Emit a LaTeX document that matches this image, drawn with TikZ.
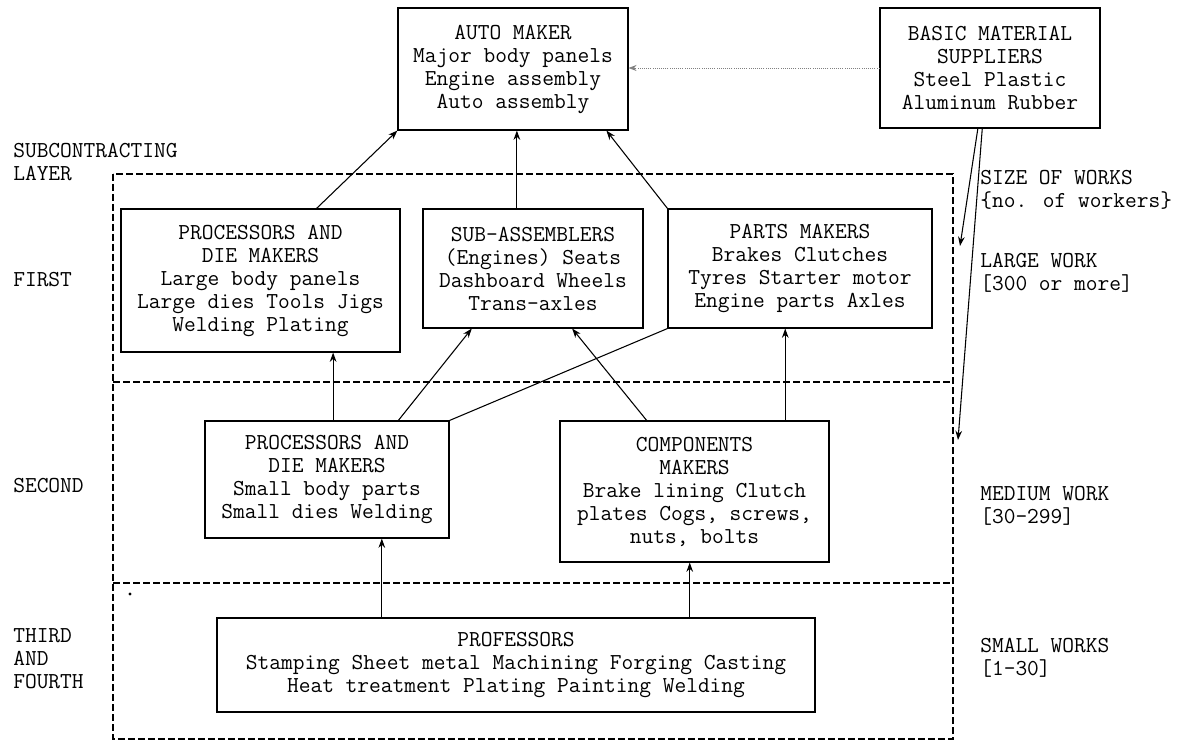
\documentclass[tikz,border=0pt]{standalone}
\usepackage{fontspec}
\usetikzlibrary{arrows.meta,calc}
\begin{document}
\begin{tikzpicture}[x=0.75pt,y=-0.75pt,
  txt/.style={font=\ttfamily\fontsize{17.1pt}{17.25pt}\selectfont},
  box/.style={txt,draw,line width=0.8pt,align=center,inner sep=0pt},
  side/.style={txt,align=left,anchor=west,inner sep=0pt},
  conn/.style={line width=0.8pt},
  arr/.style={conn,-{Stealth[length=7pt,width=5pt]}},
  layer/.style={line width=0.8pt,dash pattern=on 5pt off 2.5pt},
  supply/.style={line width=0.6pt,gray,densely dotted,-{Stealth[length=6pt,width=4.5pt]}}]
\useasboundingbox (0,0) rectangle (1181,748);
\fill[white] (0,0) rectangle (1181,748);

% layer frame
\draw[layer] (113,174) rectangle (953,739);
\draw[layer] (113,382) -- (953,382);
\draw[layer] (113,583) -- (953,583);
\fill (130,594) circle (1.6);

% top
\node[box,minimum width=172.5pt,minimum height=91.5pt] (auto) at (513,69)
  {AUTO MAKER\\Major body panels\\Engine assembly\\Auto assembly};
\node[box,minimum width=165pt,minimum height=90pt] (basic) at (990,68)
  {BASIC MATERIAL\\SUPPLIERS\\Steel Plastic\\Aluminum Rubber};

% first layer
\node[box,minimum width=209.25pt,minimum height=107.25pt] (box1) at (260.5,280.5)
  {PROCESSORS AND\\DIE MAKERS\\Large body panels\\Large dies Tools Jigs\\Welding Plating};
\node[box,minimum width=165pt,minimum height=89.25pt] (sub) at (533,268.5)
  {SUB-ASSEMBLERS\\(Engines) Seats\\Dashboard Wheels\\Trans-axles};
\node[box,minimum width=198pt,minimum height=89.25pt] (parts) at (800,268.5)
  {PARTS MAKERS\\Brakes Clutches\\Tyres Starter motor\\Engine parts Axles};

% second layer
\node[box,minimum width=183pt,minimum height=87.75pt] (proc2) at (327,479.5)
  {PROCESSORS AND\\DIE MAKERS\\Small body parts\\Small dies Welding};
\node[box,minimum width=201.75pt,minimum height=105.75pt] (comp) at (694.5,491.5)
  {COMPONENTS\\MAKERS\\Brake lining Clutch\\plates Cogs, screws,\\nuts, bolts};

% third layer
\node[box,minimum width=448.5pt,minimum height=70.5pt] (prof) at (516,665)
  {PROFESSORS\\Stamping Sheet metal Machining Forging Casting\\Heat treatment Plating Painting Welding};

% side labels
\node[side] (lsub) at (13,162.5) {SUBCONTRACTING\\LAYER};
\node[side] (lfirst) at (13,280) {FIRST};
\node[side] (lsecond) at (13,486) {SECOND};
\node[side] (lthird) at (13,658.5) {THIRD\\AND\\FOURTH};
\node[side] (rsize) at (980,189.5) {SIZE OF WORKS\\\{no. of workers\}};
\node[side] (rlarge) at (980,272.5) {LARGE WORK\\{[300 or more]}};
\node[side] (rmed) at (980,505.5) {MEDIUM WORK\\{[30-299]}};
\node[side] (rsmall) at (980,657.5) {SMALL WORKS\\{[1-30]}};

% anchor points on box edges
\coordinate (b1t) at ($(box1.north west)!0.70!(box1.north east)$);
\coordinate (sbt) at ($(sub.north west)!0.427!(sub.north east)$);
\coordinate (aub) at ($(auto.south west)!0.904!(auto.south east)$);
\coordinate (p2a) at ($(proc2.north west)!0.525!(proc2.north east)$);
\coordinate (p2b) at ($(proc2.north west)!0.791!(proc2.north east)$);
\coordinate (sbl) at ($(sub.south west)!0.223!(sub.south east)$);
\coordinate (sbr) at ($(sub.south west)!0.677!(sub.south east)$);
\coordinate (cta) at ($(comp.north west)!0.323!(comp.north east)$);
\coordinate (ctb) at ($(comp.north west)!0.836!(comp.north east)$);
\coordinate (pta) at ($(prof.north west)!0.276!(prof.north east)$);
\coordinate (ptb) at ($(prof.north west)!0.79!(prof.north east)$);
\coordinate (cbt) at ($(comp.south west)!0.47!(comp.south east)$);
\coordinate (bsa) at ($(basic.south west)!0.445!(basic.south east)$);
\coordinate (bsb) at ($(basic.south west)!0.465!(basic.south east)$);
\coordinate (lw) at (960,246);
\coordinate (mw) at (958,440);

% connectors
\draw[supply] (basic.west) -- (basic.west -| auto.east);
\draw[arr] (b1t) -- (auto.south west);
\draw[arr] (sbt) -- (sbt |- auto.south);
\draw[arr] (parts.north west) -- (aub);
\draw[arr] (p2a) -- (p2a |- box1.south);
\draw[arr] (p2b) -- (sbl);
\draw[arr] (cta) -- (sbr);
\draw[conn] (proc2.north east) -- (parts.south west);
\draw[arr] (ctb) -- (ctb |- parts.south);
\draw[arr] (pta) -- (pta |- proc2.south);
\draw[arr] (ptb) -- (ptb |- comp.south);
\draw[arr] (bsa) -- (lw);
\draw[arr] (bsb) -- (mw);
\end{tikzpicture}
\end{document}
